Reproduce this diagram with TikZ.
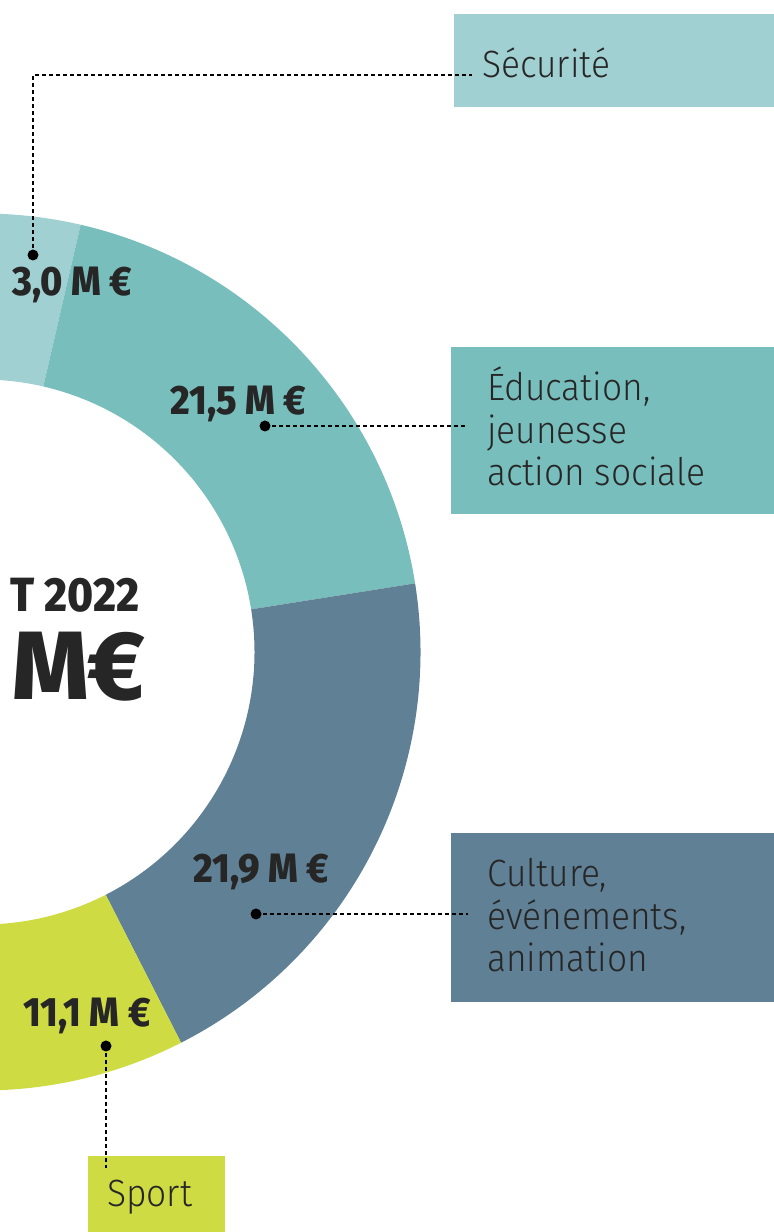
\documentclass[tikz,border=0pt]{standalone}
\usepackage{fontspec}
\setmainfont{Fira Sans}
\newfontfamily\labfont{Fira Sans Light}[FakeStretch=0.93]
\newfontfamily\valfont{Fira Sans ExtraBold}[FakeStretch=0.92]
\newfontfamily\bigfont{Fira Sans ExtraBold}
\definecolor{secu}{HTML}{A0D0D2}
\definecolor{edu}{HTML}{78BEBC}
\definecolor{cult}{HTML}{5F8095}
\definecolor{spo}{HTML}{CEDB43}
\definecolor{ink}{HTML}{262626}
\begin{document}
\begin{tikzpicture}[x=1pt,y=1pt,
  box/.style={inner sep=0pt, outer sep=0pt, anchor=north west},
  lab/.style={inner sep=0pt, anchor=base west, text=ink, font=\labfont\fontsize{38}{42.5}\selectfont},
  val/.style={inner sep=0pt, anchor=base west, text=ink, font=\valfont\fontsize{41}{41}\selectfont},
  leader/.style={dash pattern=on 4pt off 3pt, line width=1.3pt, black},
  dot/.style={circle, fill=black, inner sep=0pt, minimum size=11pt}]
\useasboundingbox (0,0) rectangle (774,1232);
\clip (0,0) rectangle (774,1232);
\coordinate (C) at (-18,580);
\def\Ro{438.5}
\def\Ri{272.5}
% ring segments
\fill[secu, shift={(C)}] (77:\Ro) arc[start angle=77,end angle=140,radius=\Ro] -- (140:\Ri) arc[start angle=140,end angle=77,radius=\Ri] -- cycle;
\fill[edu, shift={(C)}] (9:\Ro) arc[start angle=9,end angle=77,radius=\Ro] -- (77:\Ri) arc[start angle=77,end angle=9,radius=\Ri] -- cycle;
\fill[cult, shift={(C)}] (-63:\Ro) arc[start angle=-63,end angle=9,radius=\Ro] -- (9:\Ri) arc[start angle=9,end angle=-63,radius=\Ri] -- cycle;
\fill[spo, shift={(C)}] (-140:\Ro) arc[start angle=-140,end angle=-63,radius=\Ro] -- (-63:\Ri) arc[start angle=-63,end angle=-140,radius=\Ri] -- cycle;
% boxes
\node[box, fill=secu, minimum width=320pt, minimum height=93pt] (secbox) at (454,1218) {};
\node[box, fill=edu, minimum width=323pt, minimum height=167pt] (edubox) at (451,885) {};
\node[box, fill=cult, minimum width=323pt, minimum height=169pt] (cultbox) at (451,399) {};
\node[box, fill=spo, minimum width=137pt, minimum height=76pt] (spobox) at (88,76) {};
% dots
\node[dot] (secdot) at (33,977) {};
\node[dot] (edudot) at (265,806) {};
\node[dot] (cultdot) at (256,318) {};
\node[dot] (spodot) at (106,186) {};
% leader ends
\coordinate (seccorner) at (33,1157);
\coordinate (secend) at (472,1157);
\coordinate (eduend) at (466,806);
\coordinate (cultend) at (468,318);
\coordinate (spoend) at (106,64);
\draw[leader] (secdot.center) -- (seccorner) -- (secend);
\draw[leader] (edudot.center) -- (eduend);
\draw[leader] (cultdot.center) -- (cultend);
\draw[leader] (spodot.center) -- (spoend);
% category labels
\node[lab] (sectxt) at (482,1154) {Sécurité};
\node[lab] (edutxt) at (487,831) {\begin{tabular}[t]{@{}l@{}}Éducation,\\jeunesse\\action sociale\end{tabular}};
\node[lab] (culttxt) at (487,345) {\begin{tabular}[t]{@{}l@{}}Culture,\\événements,\\animation\end{tabular}};
\node[lab] (spotxt) at (107,25) {Sport};
% values
\node[val] (v30) at (12,936) {3,0 M €};
\node[val] (v215) at (170,817) {21,5 M €};
\node[val] (v219) at (193,349) {21,9 M €};
\node[val] (v111) at (23,205) {11,1 M €};
% centre text
\node[inner sep=0pt, anchor=base east, text=ink, font=\valfont\fontsize{48}{48}\selectfont] (year) at (140,620) {T 2022};
\node[inner sep=0pt, anchor=base east, text=ink, font=\bigfont\fontsize{97}{97}\selectfont] (meur) at (145,532) {M\kern-0.02em €};
\end{tikzpicture}
\end{document}
